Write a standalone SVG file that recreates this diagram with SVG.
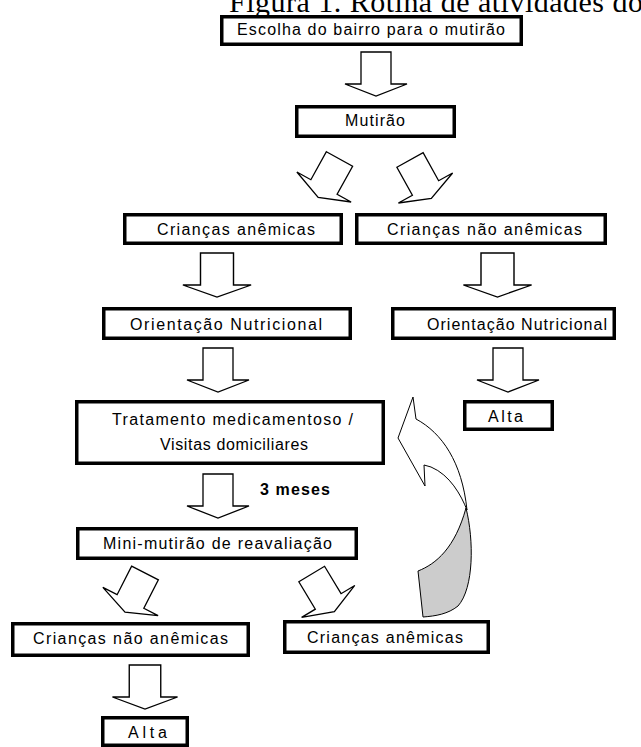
<svg xmlns="http://www.w3.org/2000/svg" width="641" height="747" viewBox="0 0 641 747">
<style>
.box{fill:#fff;stroke:#000;stroke-width:3.5}
.t{font-family:"Liberation Sans",Arial,sans-serif;font-size:16px;fill:#000;text-anchor:start}
.b{font-family:"Liberation Sans",Arial,sans-serif;font-size:16px;font-weight:bold;fill:#000}
.ttl{font-family:"Liberation Serif","Times New Roman",serif;font-size:30px;fill:#000}
.arr{fill:#fff;stroke:#000;stroke-width:1.3;stroke-linejoin:miter}
.cv{stroke:#000;stroke-width:1;stroke-linejoin:round}
</style>
<defs>
<path id="dn" d="M-15,0 H15 V32 H31 L0,44 L-31,32 H-15 Z"/>
</defs>
<rect width="641" height="747" fill="#fff"/>
<text class="ttl" x="229" y="12" textLength="414">Figura 1. Rotina de atividades do</text>

<g id="connectors">
<use href="#dn" class="arr" transform="translate(376,52)"/>
<use href="#dn" class="arr" transform="translate(339.5,159) rotate(29)"/>
<use href="#dn" class="arr" transform="translate(410,160) rotate(-29)"/>
<use href="#dn" class="arr" transform="translate(217,253) scale(1.1,1)"/>
<use href="#dn" class="arr" transform="translate(497.5,253) scale(1.1,1)"/>
<use href="#dn" class="arr" transform="translate(218,348)"/>
<use href="#dn" class="arr" transform="translate(508,348)"/>
<use href="#dn" class="arr" transform="translate(218,474)"/>
<use href="#dn" class="arr" transform="translate(145,573) rotate(27)"/>
<use href="#dn" class="arr" transform="translate(311.7,574) rotate(-31)"/>
<use href="#dn" class="arr" transform="translate(145,665) scale(1.05,1)"/>
<g id="curved">
<path class="cv" fill="#cccccc" d="M466,508 C474,540 474,588 458,606 C448,614 436,616 423,617 L418,571 C436,564 455,548 466,508 Z"/>
<path class="cv" fill="#fff" d="M413,397 L416,419 C442,433 462,462 467,510 C461,495 450,475 431,467 L424,465 L425,486 L398,438 Z"/>
</g>
</g>

<g id="n1"><rect class="box" x="221.75" y="16.75" width="299.5" height="27.5"/><text class="t" x="237" y="35" textLength="268">Escolha do bairro para o mutirão</text></g>
<g id="n2"><rect class="box" x="296.75" y="106.75" width="157.5" height="29.5"/><text class="t" x="345" y="126" textLength="60">Mutirão</text></g>
<g id="n3"><rect class="box" x="124.75" y="214.75" width="216.5" height="28.5"/><text class="t" x="157" y="235" textLength="158">Crianças anêmicas</text></g>
<g id="n4"><rect class="box" x="356.75" y="214.75" width="248.5" height="28.5"/><text class="t" x="387" y="235" textLength="195">Crianças não anêmicas</text></g>
<g id="n5"><rect class="box" x="103.75" y="308.75" width="246.5" height="29.5"/><text class="t" x="130" y="330" textLength="192">Orientação Nutricional</text></g>
<g id="n6"><rect class="box" x="392.75" y="308.75" width="221.5" height="29.5"/><text class="t" x="427" y="330" textLength="180">Orientação Nutricional</text></g>
<g id="n7"><rect class="box" x="464.75" y="401.75" width="87.5" height="27.5"/><text class="t" x="488" y="422" textLength="35">Alta</text></g>
<g id="n8"><rect class="box" x="76.75" y="401.75" width="306.5" height="61.5"/><text class="t" x="112" y="425" textLength="241">Tratamento medicamentoso /</text><text class="t" x="160" y="450" textLength="148">Visitas domiciliares</text></g>
<text class="b" x="260" y="495" textLength="70">3 meses</text>
<g id="n9"><rect class="box" x="77.75" y="528.75" width="278.5" height="29.5"/><text class="t" x="103" y="549" textLength="229">Mini-mutirão de reavaliação</text></g>
<g id="n10"><rect class="box" x="12.75" y="623.75" width="235.5" height="31.5"/><text class="t" x="33" y="644" textLength="195">Crianças não anêmicas</text></g>
<g id="n11"><rect class="box" x="284.75" y="621.75" width="203.5" height="30.5"/><text class="t" x="307" y="643" textLength="156">Crianças anêmicas</text></g>
<g id="n12"><rect class="box" x="102.75" y="717.75" width="84.5" height="27.5"/><text class="t" x="128" y="738" textLength="39">Alta</text></g>
</svg>
